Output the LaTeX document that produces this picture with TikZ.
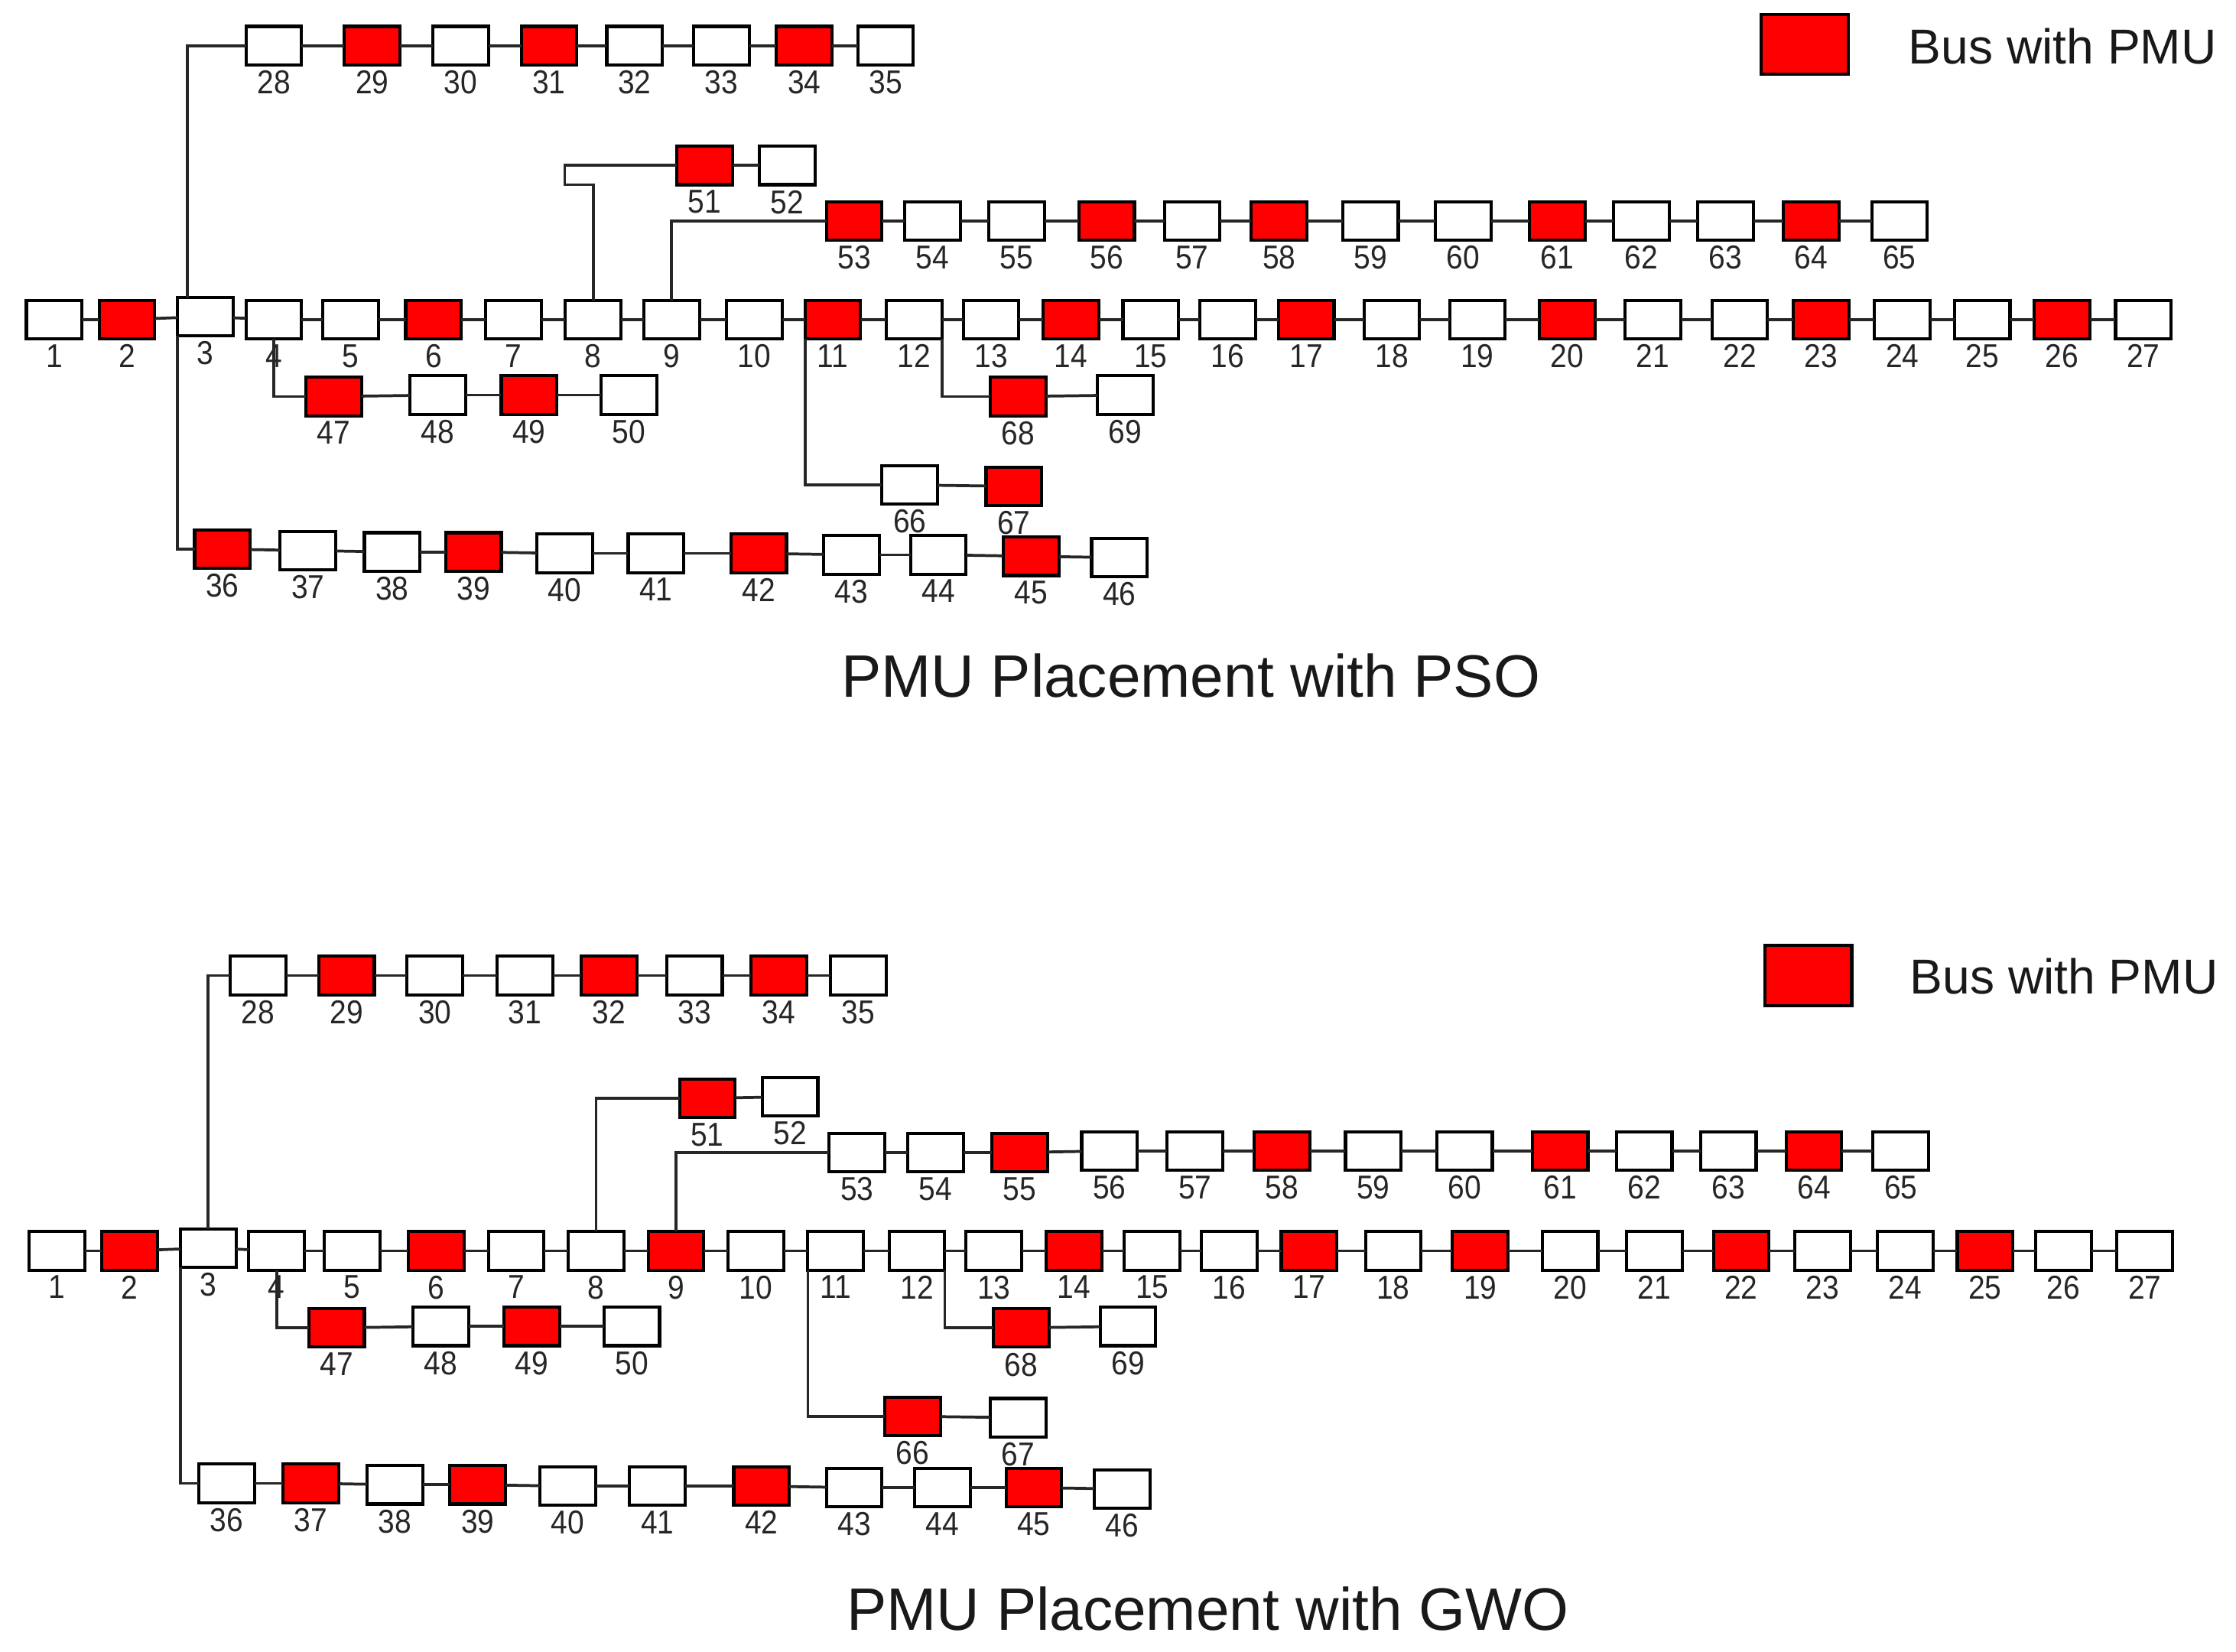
\documentclass[tikz,border=0pt]{standalone}
\usepackage{fontspec}
\setmainfont{Liberation Sans}
\newfontfamily\numfont[FakeStretch=0.9]{Liberation Sans}
\colorlet{R}{red}
\colorlet{W}{white}
\newcommand\buschain[3]{\foreach \ia in {#2,...,#3}{\pgfmathtruncatemacro\ib{\ia+1}\draw[wire] (#1\ia) -- (#1\ib);}}
\begin{document}
\begin{tikzpicture}[x=0.5pt,y=-0.5pt,
  label distance=1.8pt,
  bus/.style={draw=black, line width=1.1pt, fill=#1, minimum width=19.5pt, minimum height=13.5pt, inner sep=0pt, outer sep=0pt},
  lbl/.style={font=\numfont\fontsize{11.6}{12}\selectfont, text=black!85, inner sep=0pt},
  wire/.style={line width=1pt, draw=black!85},
  title/.style={font=\fontsize{21}{24}\selectfont, text=black!90, anchor=base, inner sep=0pt},
  legbox/.style={draw=black, line width=1.1pt, fill=red, minimum width=30.5pt, minimum height=21pt, inner sep=0pt},
  legtext/.style={font=\fontsize{17.2}{20}\selectfont, text=black!90, anchor=base west, inner sep=0pt}]
\fill[white] (0,0) rectangle (1568,1158);
\useasboundingbox (0,0) rectangle (1568,1158);

% ---------------- PSO ----------------
\foreach \n/\x/\y/\c in {1/38/224/W,2/89/224/R,3/144/222/W,4/192/224/W,5/246/224/W,6/304/224/R,7/360/224/W,8/416/224/W,9/471/224/W,10/529/224/W,11/584/224/R,12/641/224/W,13/695/224/W,14/751/224/R,15/807/224/W,16/861/224/W,17/916/224/R,18/976/224/W,19/1036/224/W,20/1099/224/R,21/1159/224/W,22/1220/224/W,23/1277/224/R,24/1334/224/W,25/1390/224/W,26/1446/224/R,27/1503/224/W,
 28/192/32/W,29/261/32/R,30/323/32/W,31/385/32/R,32/445/32/W,33/506/32/W,34/564/32/R,35/621/32/W,
 51/494/116/R,52/552/116/W,
 53/599/155/R,54/654/155/W,55/713/155/W,56/776/155/R,57/836/155/W,58/897/155/R,59/961/155/W,60/1026/155/W,61/1092/155/R,62/1151/155/W,63/1210/155/W,64/1270/155/R,65/1332/155/W,
 47/234/278/R,48/307/277/W,49/371/277/R,50/441/277/W,
 68/714/278/R,69/789/277/W,
 66/638/340/W,67/711/341/R,
 36/156/385/R,37/216/386/W,38/275/387/W,39/332/387/R,40/396/388/W,41/460/388/W,42/532/388/R,43/597/389/W,44/658/389/W,45/723/390/R,46/785/391/W}
  \node[bus=\c, label={[lbl]below:\n}] (p\n) at (\x,\y) {};

\buschain{p}{1}{26}
\buschain{p}{28}{34}
\buschain{p}{51}{51}
\buschain{p}{53}{64}
\buschain{p}{47}{49}
\buschain{p}{68}{68}
\buschain{p}{66}{66}
\buschain{p}{36}{45}

\coordinate (p8k) at ([xshift=-10pt]p8.north);
\draw[wire] ([xshift=3.5pt]p3.north west) |- (p28.west);
\draw[wire] (p3.south west) |- (p36.west);
\draw[wire] (p4.south) |- (p47.west);
\draw[wire] (p8.north) -- (p8.north |- p51.south) -| (p8k |- p51.west) -- (p51.west);
\draw[wire] (p9.north) |- (p53.west);
\draw[wire] (p11.south west) |- (p66.west);
\draw[wire] (p12.south east) |- (p68.west);

\node[title] (tp) at (835,489) {PMU Placement with PSO};
\node[legbox] (lp) at (1265.5,31) {};
\node[legtext] (lpt) at (1338,45) {Bus with PMU};

% ---------------- GWO ----------------
\foreach \n/\x/\y/\c in {1/40/877/W,2/91/877/R,3/146/875/W,4/194/877/W,5/247/877/W,6/306/877/R,7/362/877/W,8/418/877/W,9/474/877/R,10/530/877/W,11/586/877/W,12/643/877/W,13/697/877/W,14/753/877/R,15/808/877/W,16/862/877/W,17/918/877/R,18/977/877/W,19/1038/877/R,20/1101/877/W,21/1160/877/W,22/1221/877/R,23/1278/877/W,24/1336/877/W,25/1392/877/R,26/1447/877/W,27/1504/877/W,
 28/181/684/W,29/243/684/R,30/305/684/W,31/368/684/W,32/427/684/R,33/487/684/W,34/546/684/R,35/602/684/W,
 51/496/770/R,52/554/769/W,
 53/601/808/W,54/656/808/W,55/715/808/R,56/778/807/W,57/838/807/W,58/899/807/R,59/963/807/W,60/1027/807/W,61/1094/807/R,62/1153/807/W,63/1212/807/W,64/1272/807/R,65/1333/807/W,
 47/236/931/R,48/309/930/W,49/373/930/R,50/443/930/W,
 68/716/931/R,69/791/930/W,
 66/640/993/R,67/714/994/W,
 36/159/1040/W,37/218/1040/R,38/277/1041/W,39/335/1041/R,40/398/1042/W,41/461/1042/W,42/534/1042/R,43/599/1043/W,44/661/1043/W,45/725/1043/R,46/787/1044/W}
  \node[bus=\c, label={[lbl]below:\n}] (g\n) at (\x,\y) {};

\buschain{g}{1}{26}
\buschain{g}{28}{34}
\buschain{g}{51}{51}
\buschain{g}{53}{64}
\buschain{g}{47}{49}
\buschain{g}{68}{68}
\buschain{g}{66}{66}
\buschain{g}{36}{45}

\draw[wire] (g3.north) |- (g28.west);
\draw[wire] (g3.south west) |- (g36.west);
\draw[wire] (g4.south) |- (g47.west);
\draw[wire] (g8.north) |- (g51.west);
\draw[wire] (g9.north) |- (g53.west);
\draw[wire] (g11.south west) |- (g66.west);
\draw[wire] (g12.south east) |- (g68.west);

\node[title] (tg) at (847,1143) {PMU Placement with GWO};
\node[legbox] (lg) at (1268,684) {};
\node[legtext] (lgt) at (1339,697) {Bus with PMU};
\end{tikzpicture}
\end{document}
